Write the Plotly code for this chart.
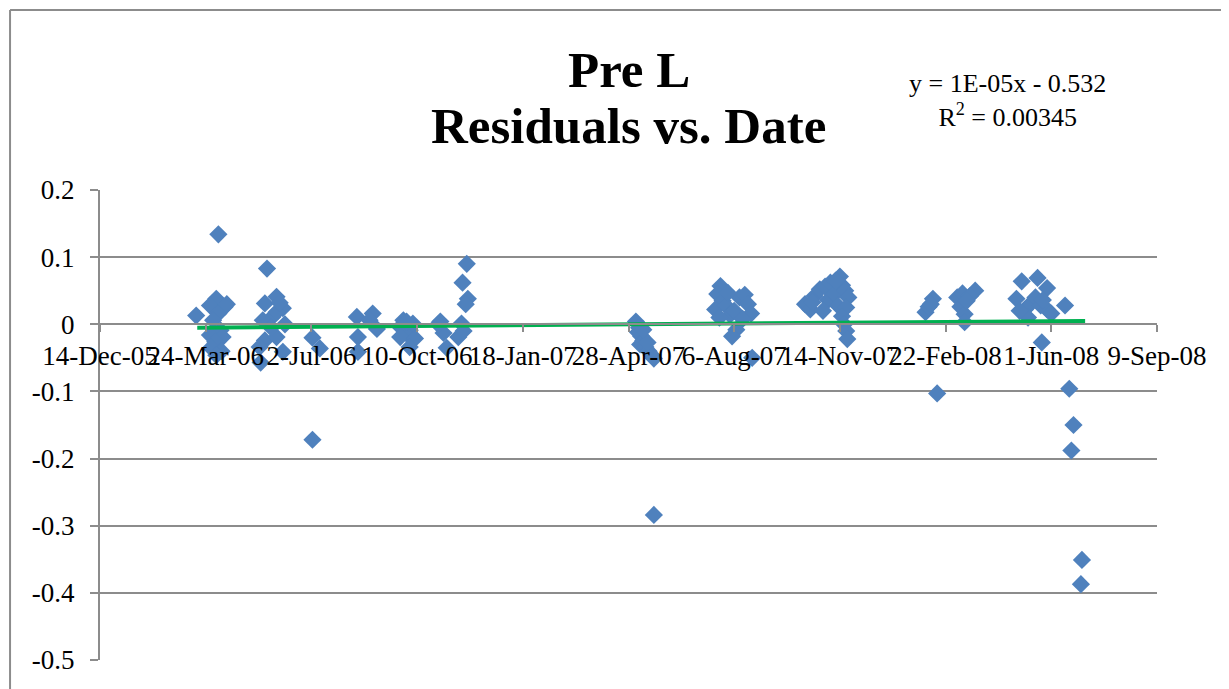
import pandas as pd
import plotly.graph_objects as go

# fechas en serie de Excel (días)
date_serial = [
    38791, 38812, 38810, 38818, 38804, 38812, 38807, 38814, 38804, 38816, 38809, 38805, 38815, 38810, 38820,
    38858, 38856, 38867, 38873, 38863, 38867, 38854, 38856, 38867, 38851, 38873, 38852, 38870, 38862, 38875,
    38901, 38908, 38901,
    38943, 38958, 38944, 38962, 38944, 38955,
    38987, 38984, 38993, 38990, 38984, 38998, 38993, 38996, 38990,
    39022, 39025, 39028, 39020,
    39047, 39043, 39048, 39046, 39042, 39039, 39044,
    39207, 39210, 39209, 39212, 39214, 39211, 39216, 39219, 39222, 39224, 39218, 39214, 39224,
    39287, 39284, 39289, 39282, 39292, 39296, 39300, 39305, 39310, 39313, 39316, 39308, 39302, 39298, 39317, 39286, 39294,
    39367, 39372, 39376, 39381, 39386, 39389, 39391, 39395, 39398, 39400, 39402, 39405, 39408, 39406, 39402, 39404, 39406,
    39407, 39374, 39384, 39396,
    39481, 39484, 39488, 39486, 39492,
    39511, 39516, 39528, 39523, 39514, 39518, 39518, 39520,
    39572, 39587, 39596, 39567, 39575, 39580, 39585, 39590, 39596, 39600, 39578, 39613, 39591, 39570, 39592,
    39617, 39621, 39619, 39629, 39628,
]
residuals = [
    0.013, 0.134, 0.038, 0.026, 0.028, 0.016, 0.006, -0.009, -0.016, -0.019, -0.026, -0.035, -0.040, -0.046, 0.030,
    0.083, 0.031, 0.041, 0.024, 0.011, 0.018, 0.006, -0.024, -0.019, -0.034, -0.041, -0.057, 0.032, -0.005, 0.000,
    -0.020, -0.036, -0.172,
    0.011, 0.016, -0.019, -0.007, -0.041, 0.006,
    0.006, -0.004, -0.009, -0.014, -0.019, -0.021, -0.034, 0.001, 0.004,
    0.004, -0.013, -0.035, 0.000,
    0.090, 0.062, 0.038, 0.030, 0.001, -0.019, -0.010,
    0.004, -0.005, -0.012, -0.018, -0.024, -0.030, -0.034, -0.040, -0.046, -0.051, -0.027, -0.008, -0.284,
    0.057, 0.045, 0.035, 0.022, 0.028, 0.014, 0.020, 0.040, 0.044, 0.030, 0.016, 0.008, -0.008, -0.018, -0.050, 0.010, 0.047,
    0.030, 0.022, 0.042, 0.052, 0.056, 0.036, 0.062, 0.045, 0.028, 0.071, 0.058, 0.050, 0.040, 0.025, 0.012, 0.000, -0.010,
    -0.022, 0.033, 0.020, 0.065,
    0.018, 0.026, 0.038, 0.030, -0.103,
    0.040, 0.046, 0.050, 0.042, 0.026, 0.015, 0.003, 0.035,
    0.064, 0.069, 0.054, 0.038, 0.022, 0.030, 0.040, 0.028, 0.022, 0.016, 0.010, 0.028, -0.027, 0.020, 0.036,
    -0.096, -0.150, -0.188, -0.351, -0.387,
]

# línea de tendencia (extremos)
trend_serial = [38792, 39632]
trend_y = [-0.005, 0.005]

# ejes
x_tick_serial = [38700, 38800, 38900, 39000, 39100, 39200, 39300, 39400, 39500, 39600, 39700]
x_tick_labels = ["14-Dec-05", "24-Mar-06", "2-Jul-06", "10-Oct-06", "18-Jan-07", "28-Apr-07",
                 "6-Aug-07", "14-Nov-07", "22-Feb-08", "1-Jun-08", "9-Sep-08"]
y_ticks = [0.2, 0.1, 0, -0.1, -0.2, -0.3, -0.4, -0.5]
y_labels = ["0.2", "0.1", "0", "-0.1", "-0.2", "-0.3", "-0.4", "-0.5"]


def to_date(serial):
    return pd.to_datetime(serial, unit="D", origin="1899-12-30")


dates = to_date(date_serial)
trend_dates = to_date(trend_serial)

fig = go.Figure()

fig.add_trace(go.Scatter(
    x=dates, y=residuals, mode="markers",
    marker=dict(symbol="diamond", size=14, color="#4F81BD"),
    showlegend=False
))

fig.add_trace(go.Scatter(
    x=trend_dates, y=trend_y, mode="lines",
    line=dict(color="#00B050", width=4),
    showlegend=False
))

gray = "#8C8C8C"
serif = "Liberation Serif"

# la página deja 8px de margen en el body, se compensa aquí
fig.update_layout(
    width=1229, height=689,
    margin=dict(l=92, r=80, t=182, b=37),
    paper_bgcolor="white", plot_bgcolor="white",
    font=dict(family=serif, color="black"),
    xaxis=dict(
        type="date",
        range=[to_date(38700), to_date(39700)],
        tickvals=to_date(x_tick_serial), ticktext=x_tick_labels,
        tickangle=0,
        anchor="free", position=0.5 / 0.7,
        showline=True, linecolor=gray, linewidth=2,
        ticks="outside", ticklen=7, tickcolor=gray, tickwidth=2,
        showgrid=False, zeroline=False,
        tickfont=dict(size=27, family=serif),
        automargin=False,
    ),
    yaxis=dict(
        range=[-0.5, 0.2],
        tickvals=y_ticks, ticktext=y_labels,
        showline=True, linecolor=gray, linewidth=2,
        ticks="outside", ticklen=8, tickcolor=gray, tickwidth=2,
        showgrid=True, gridcolor=gray, gridwidth=2,
        zeroline=False,
        tickfont=dict(size=27, family=serif),
        ticklabelstandoff=10,
        automargin=False,
    ),
    annotations=[
        dict(text="<b>Pre L</b>", xref="paper", yref="paper",
             x=0.5, y=(660 - 70) / 470, xanchor="center", yanchor="middle",
             showarrow=False, font=dict(size=51, family=serif)),
        dict(text="<b>Residuals vs. Date</b>", xref="paper", yref="paper",
             x=0.5, y=(660 - 126) / 470, xanchor="center", yanchor="middle",
             showarrow=False, font=dict(size=51, family=serif)),
        dict(
            text="y = 1E-05x - 0.532<br>R<sup>2</sup> = 0.00345",
            xref="paper", yref="paper",
            x=(1007 - 100) / 1057, y=(660 - 101) / 470,
            xanchor="center", yanchor="middle",
            showarrow=False, align="center",
            font=dict(size=26, family=serif),
        ),
    ],
    shapes=[
        dict(type="line", xref="paper", yref="paper",
             x0=-0.0851, x1=-0.0851, y0=1.383, y1=-0.2,
             line=dict(color=gray, width=2)),
        dict(type="line", xref="paper", yref="paper",
             x0=-0.0851, x1=1.2, y0=1.383, y1=1.383,
             line=dict(color=gray, width=2)),
    ],
)

fig.write_html("out.html")
